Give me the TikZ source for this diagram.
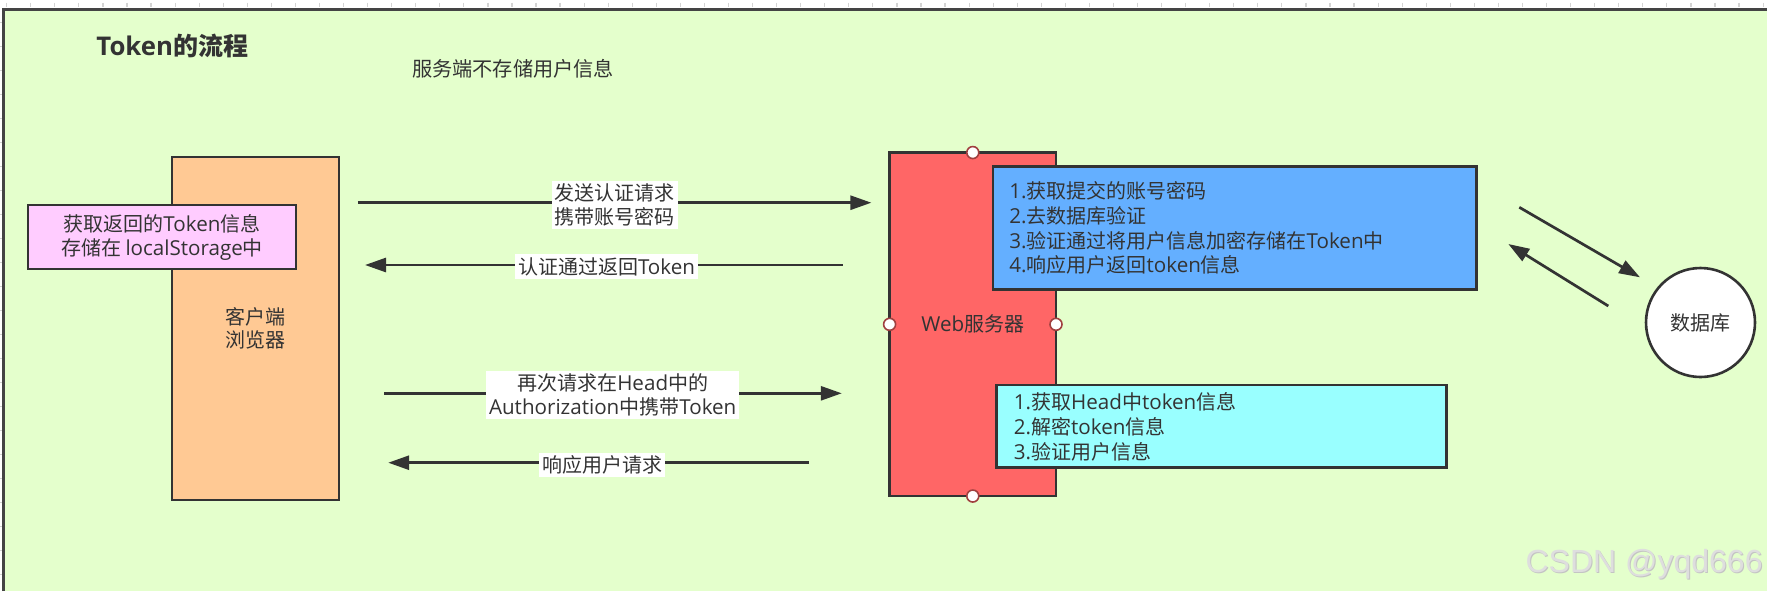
\documentclass[tikz,border=0pt]{standalone}
\usepackage{fontspec}
\setmainfont{Noto Sans CJK SC}
\newfontfamily\lat{Open Sans}[Scale=1.03]
\newfontfamily\wmfont{Liberation Sans}
\usetikzlibrary{arrows.meta}
\definecolor{cBg}{HTML}{E4FFCC}
\definecolor{cOrange}{HTML}{FFC994}
\definecolor{cPink}{HTML}{FFCCFF}
\definecolor{cRed}{HTML}{FF6666}
\definecolor{cBlue}{HTML}{64AFFF}
\definecolor{cCyan}{HTML}{99FFFF}
\definecolor{cLine}{HTML}{333333}
\definecolor{cTxt}{HTML}{333333}
\definecolor{cFrame}{HTML}{444444}
\definecolor{cPort}{HTML}{A0403F}
\definecolor{cTick}{HTML}{D4D4D4}
\definecolor{cWm}{HTML}{DEDEDE}
\definecolor{cWmS}{HTML}{C4C4C4}
\newcommand\fsz[2]{\fontsize{#1}{#2}\selectfont}
\tikzset{
  box/.style={draw=cLine, line width=1.4pt, inner sep=0pt, outer sep=0pt, text=cTxt},
  lbl/.style={fill=white, inner xsep=1.5pt, inner ysep=1.5pt, align=center, text=cTxt, font=\fsz{10}{12}},
  arr/.style={draw=cLine, line width=1.35pt, -{Triangle[length=10.5pt,width=7pt]}},
  port/.style={circle, draw=cPort, fill=white, line width=0.8pt, minimum size=6pt, inner sep=0pt},
  tick/.style={draw=cTick, line width=0.6pt},
}
\begin{document}
\begin{tikzpicture}[x=0.5pt,y=-0.5pt]
\useasboundingbox (0,0) rectangle (1767,591);
\fill[white] (0,0) rectangle (1767,591);
% rulers
\foreach \i in {0,...,73} \draw[tick] ({6.7+24.06*\i},2.5) -- ({6.7+24.06*\i},7);
\foreach \i in {0,...,23} \draw[tick] (0,{22.7+24*\i}) -- (1.6,{22.7+24*\i});
% canvas
\fill[cBg] (3.5,9) rectangle (1767,591);
\draw[cFrame, line width=1.5pt] (3.5,591) -- (3.5,9) -- (1767,9);

% titles
\node[anchor=base west, inner sep=0pt, font=\fsz{12.5}{15}\bfseries, text=cTxt] (title) at (96,55) {{\lat Token}的流程};
\node[anchor=west, inner sep=0pt, font=\fsz{10.1}{12}, text=cTxt] (note) at (411.6,68.5) {服务端不存储用户信息};

% client
\node[box, fill=cOrange, minimum width=83.5pt, minimum height=171.5pt, align=center, font=\fsz{10}{11.5}] (client) at (255.5,328.5) {客户端\\浏览器};
\node[box, fill=cPink, minimum width=134pt, minimum height=32pt, align=center, font=\fsz{10}{12}] (store) at (162,237) {获取返回的{\lat Token}信息\\存储在 {\lat localStorage}中};

% server
\node[box, fill=cRed, minimum width=83.2pt, minimum height=171.75pt, font=\fsz{10}{12}] (server) at (972.8,324.3) {{\lat Web}服务器};
\node[port] (pN) at (server.north) {};
\node[port] (pS) at (server.south) {};
\node[port] (pW) at (server.west) {};
\node[port] (pE) at (server.east) {};
\node[box, fill=cBlue, minimum width=241.7pt, minimum height=61.3pt, text width=225.2pt, inner xsep=8.25pt, align=left, font=\fsz{10}{12.4}] (steps1) at (1234.6,228) {{\lat 1.}获取提交的账号密码\\{\lat 2.}去数据库验证\\{\lat 3.}验证通过将用户信息加密存储在{\lat Token}中\\{\lat 4.}响应用户返回{\lat token}信息};
\node[box, fill=cCyan, minimum width=224.85pt, minimum height=41.35pt, text width=207.55pt, inner xsep=8.65pt, align=left, font=\fsz{10}{12.5}] (steps2) at (1221.5,426.4) {{\lat 1.}获取{\lat Head}中{\lat token}信息\\{\lat 2.}解密{\lat token}信息\\{\lat 3.}验证用户信息};

% database
\node[circle, draw=cLine, line width=1.3pt, fill=white, minimum size=54.5pt, inner sep=0pt, font=\fsz{10}{12}, text=cTxt] (db) at (1700.5,322.5) {数据库};

% arrow end points
\coordinate (a1s) at (357.9,202.7);
\coordinate (a1e) at (871.4,202.7);
\coordinate (a2s) at (842.9,265);
\coordinate (a2e) at (365,265);
\coordinate (a3s) at (384,393.3);
\coordinate (a3e) at (841.8,393.3);
\coordinate (a4s) at (809,462.7);
\coordinate (a4e) at (388.2,462.7);
\coordinate (d1s) at (1519.3,207.3);
\coordinate (d1e) at (1640,277.3);
\coordinate (d2s) at (1608.3,306);
\coordinate (d2e) at (1508.3,244);

\draw[arr] (a1s) -- (a1e);
\draw[arr] (a2s) -- (a2e);
\draw[arr] (a3s) -- (a3e);
\draw[arr] (a4s) -- (a4e);
\draw[arr] (d1s) -- (d1e);
\draw[arr] (d2s) -- (d2e);

% labels
\node[lbl] (l1) at (614.5,205) {发送认证请求\\携带账号密码};
\node[lbl] (l2) at (606.5,266.5) {认证通过返回{\lat Token}};
\node[lbl] (l3) at (612.7,395) {再次请求在{\lat Head}中的\\{\lat Authorization}中携带{\lat Token}};
\node[lbl] (l4) at (602,465) {响应用户请求};

% watermark
\node[anchor=base east, inner sep=0pt, font=\wmfont\fsz{16}{19}, text=cWmS] (wmshadow) at (1764,573.8) {CSDN @yqd666};
\node[anchor=base east, inner sep=0pt, font=\wmfont\fsz{16}{19}, text=cWm] (wm) at (1763,572.7) {CSDN @yqd666};
\end{tikzpicture}
\end{document}
